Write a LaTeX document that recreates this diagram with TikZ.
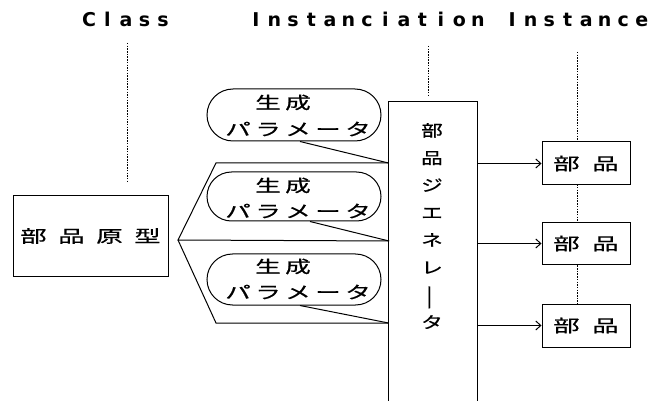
\documentclass[tikz,border=0pt]{standalone}
\usepackage{fontspec}
\usepackage{graphicx}
\usetikzlibrary{shapes.misc,arrows.meta,calc}
\newfontfamily\cjk{Noto Sans CJK JP}[FakeBold=0.6]
\newfontfamily\hdr{DejaVu Sans}
\newcommand\spw{}
\newcommand\spx{}
\newcommand\spaced[3]{\renewcommand\spw{#1}\renewcommand\spx{#2}\spacedloop#3\relax}
\def\spacedloop#1{\ifx\relax#1\else\makebox[\spw][c]{\scalebox{\spx}[1]{#1}}\expandafter\spacedloop\fi}
\begin{document}
\begin{tikzpicture}[x=1pt,y=-1pt, line width=1pt,
  hdrtext/.style={font=\hdr\bfseries\fontsize{19}{19}\selectfont, inner sep=0, anchor=base},
  cjktext/.style={font=\cjk\fontsize{17}{17}\selectfont, inner sep=0},
  guide/.style={line width=0.6pt, dash pattern=on 1.5pt off 1.2pt},
  box/.style={draw, fill=white, rectangle, inner sep=0, font=\cjk\fontsize{17}{17}\selectfont},
  param/.style={draw, rounded rectangle, minimum width=174pt, inner sep=0},
  arr/.style={-{Straight Barb[length=5pt,width=9pt]}}]
\useasboundingbox (0,0) rectangle (654,401);
\fill[white] (0,0) rectangle (654,401);

% headers
\node[hdrtext] (hclass) at (126,27) {\spaced{18.5pt}{1}{Class}};
\node[hdrtext] (hinst) at (367,27) {\spaced{18.5pt}{1}{Instanciation}};
\node[hdrtext] (hinsc) at (577,27) {\spaced{18.5pt}{1}{Instance}};

% guides
\coordinate (g1t) at (127,43); \coordinate (g1b) at (127,183);
\coordinate (g2t) at (428,46); \coordinate (g2b) at (428,96);
\coordinate (g3t) at (577,52); \coordinate (g3b) at (577,304);
\draw[guide] (g1t) -- (g1b);
\draw[guide] (g2t) -- (g2b);
\draw[guide] (g3t) -- (g3b);

% class box
\node[box, minimum width=155pt, minimum height=81pt] (proto) at (90.5,236) {\spaced{38pt}{1.55}{部品原型}};

% generator
\node[inner sep=0, minimum width=88pt, minimum height=299pt] (gen) at (433,251.5) {};
\draw (gen.south west) -- (gen.north west) -- (gen.north east) -- (gen.south east);
\node[cjktext, align=center, font=\cjk\fontsize{16}{27.4}\selectfont] (gent) at (432,226)
  {\scalebox{1.35}[1]{部}\\\scalebox{1.35}[1]{品}\\\scalebox{1.35}[1]{ジ}\\\scalebox{1.35}[1]{エ}\\\scalebox{1.35}[1]{ネ}\\\scalebox{1.35}[1]{レ}\\\rotatebox[origin=c]{90}{\scalebox{1.7}[1]{ー}}\\\scalebox{1.35}[1]{タ}};

% parameter stadiums
\node[param, minimum height=52pt] (s1) at (294,115) {};
\node[param, minimum height=49pt] (s2) at (294,196.5) {};
\node[param, minimum height=51pt] (s3) at (294,279.5) {};
\node[cjktext] (s1a) at (283,102.5) {\spaced{30pt}{1.5}{生成}};
\node[cjktext] (s1b) at (298,129) {\spaced{30pt}{1.5}{パラメータ}};
\node[cjktext] (s2a) at (283,185.5) {\spaced{30pt}{1.5}{生成}};
\node[cjktext] (s2b) at (298,211) {\spaced{30pt}{1.5}{パラメータ}};
\node[cjktext] (s3a) at (283,266.5) {\spaced{30pt}{1.5}{生成}};
\node[cjktext] (s3b) at (298,292) {\spaced{30pt}{1.5}{パラメータ}};

% fan and junctions
\coordinate (V) at (178,240);
\coordinate (F1) at (216,163);
\coordinate (F3) at (216,323);
\coordinate (J1) at (gen.west |- F1);
\coordinate (J2) at (389,241);
\coordinate (J3) at (gen.west |- F3);
\draw (J1) -- (F1) -- (V) -- (J2);
\draw (V) -- (F3) -- (J3);
\draw ($(s1.south)+(6,0)$) -- (J1);
\draw ($(s2.south)+(16,0)$) -- (J2);
\draw ($(s3.south)+(6,0)$) -- (J3);

% instances
\node[box, minimum width=88pt, minimum height=43pt] (p1) at (586,163.5) {\spaced{39pt}{1.55}{部品}};
\node[box, minimum width=88pt, minimum height=41pt] (p2) at (586,243.5) {\spaced{39pt}{1.55}{部品}};
\node[box, minimum width=88pt, minimum height=43pt] (p3) at (586,325.5) {\spaced{39pt}{1.55}{部品}};
\draw[arr] (gen.east |- p1) -- (p1.west);
\draw[arr] (gen.east |- p2) -- (p2.west);
\draw[arr] (gen.east |- p3) -- (p3.west);
\end{tikzpicture}
\end{document}
